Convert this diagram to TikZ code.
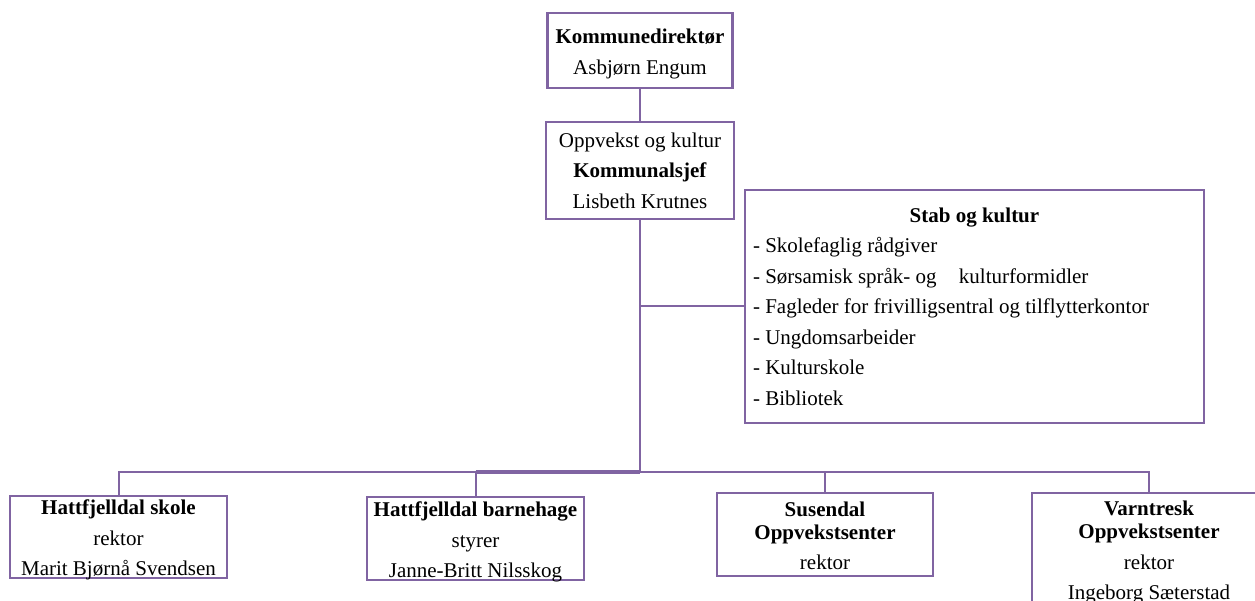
\documentclass[tikz,border=0pt]{standalone}
\usepackage{fontspec}
\setmainfont{Liberation Serif}
\definecolor{lilla}{HTML}{8064A2}
\tikzset{
  boks/.style={draw=lilla, line width=2.5pt, inner sep=0pt, align=center,
    font=\fontsize{21}{30.5}\selectfont},
  linje/.style={draw=lilla, line width=2pt}
}

\begin{document}
\begin{tikzpicture}[x=1pt,y=-1pt]
    \useasboundingbox (0,0) rectangle (1255,601);

    \node [boks, minimum width=185pt, text height=61.5pt, text depth=13.5pt] (direktor) at (640,50.5)
        {\textbf{Kommunedirektør}\\Asbjørn Engum};
    \node [boks, minimum width=188pt, minimum height=97pt] (sjef) at (640,170.5)
        {Oppvekst og kultur\\\textbf{Kommunalsjef}\\Lisbeth Krutnes};

    \node [boks, align=flush left, inner xsep=8pt, text width=443pt, minimum height=233pt] (stab) at (974.5,306.5)
        {\hfill\textbf{Stab og kultur}\hfill\null\\
        - Skolefaglig rådgiver\\
        - Sørsamisk språk- og\hspace{17pt} kulturformidler\\
        - Fagleder for frivilligsentral og tilflytterkontor\\
        - Ungdomsarbeider\\
        - Kulturskole\\
        - Bibliotek};

    \node [boks, minimum width=217pt, text height=79.5pt, text depth=2.5pt] (skole) at (118.5,537)
        {\textbf{Hattfjelldal skole}\\rektor\\Marit Bjørnå Svendsen};
    \node [boks, minimum width=217pt, text height=80.5pt, text depth=2.5pt] (barnehage) at (475.5,538.5)
        {\textbf{Hattfjelldal barnehage}\\styrer\\Janne-Britt Nilsskog};
    \node [boks, minimum width=216pt, text height=76.5pt, text depth=6.5pt] (susendal) at (825,534.5)
        {\textbf{Susendal}\\[-7.5pt]\textbf{Oppvekstsenter}\\rektor};
    \node [boks, minimum width=234pt, text height=106.5pt, text depth=7.5pt] (varntresk) at (1149,550)
        {\textbf{Varntresk}\\[-7.5pt]\textbf{Oppvekstsenter}\\rektor\\Ingeborg Sæterstad};

    \coordinate (bus) at (640,472);

    \draw [linje] (direktor.south) -- (sjef.north);
    \draw [linje] (sjef.south) -- (bus);
    \draw [linje] (sjef.south |- stab.west) -- (stab.west);

    \draw [linje] (skole.north) |- (bus) -| (varntresk.north);
    \draw [linje, line width=3.5pt] (barnehage.north |- bus) -- (bus);
    \draw [linje] (barnehage.north) -- (barnehage.north |- bus);
    \draw [linje] (susendal.north) -- (susendal.north |- bus);
\end{tikzpicture}
\end{document}
